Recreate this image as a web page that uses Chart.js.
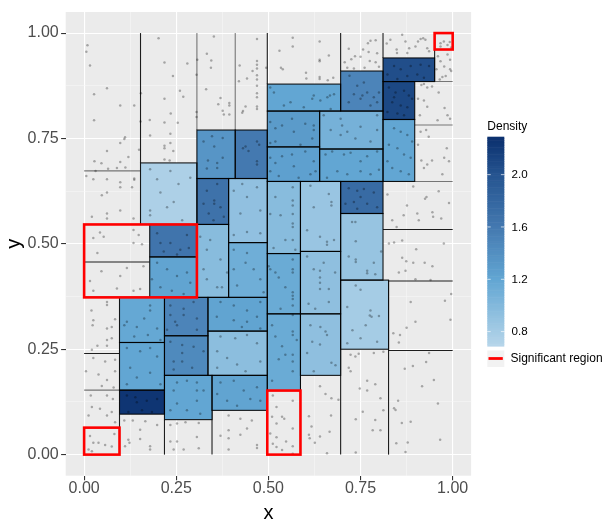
<!DOCTYPE html>
<html>
<head>
<meta charset="utf-8">
<script src="https://cdn.jsdelivr.net/npm/chart.js@4.4.0/dist/chart.umd.min.js"></script>
<style>
html,body{margin:0;padding:0;background:#ffffff;}
#wrap{position:relative;width:611px;height:526px;}
</style>
</head>
<body>
<div id="wrap"><canvas id="c" width="611" height="526"></canvas></div>
<script>
// ---------------- data ----------------
const majorTicks = [0, 0.25, 0.5, 0.75, 1];
const minorTicks = [0.125, 0.375, 0.625, 0.875];
const axisLimits = [-0.05, 1.05];

// partition cells with an estimated density
const tileXmin = [0.153,0.178,0.178,0.096,0.096,0.096,0.218,0.218,0.218,0.336,0.336,0.347,0.497,0.587,0.696,0.696,0.696,0.587,0.587,0.497,0.497,0.392,0.306,0.392,0.306,0.306,0.410,0.497,0.639,0.497,0.639,0.497,0.696,0.811,0.811,0.811];
const tileXmax = [0.306,0.306,0.306,0.218,0.218,0.218,0.336,0.336,0.347,0.497,0.497,0.497,0.587,0.696,0.826,0.811,0.811,0.696,0.696,0.587,0.587,0.497,0.392,0.497,0.392,0.410,0.497,0.639,0.811,0.639,0.811,0.696,0.811,0.951,0.897,0.897];
const tileYmin = [0.546,0.469,0.373,0.266,0.153,0.096,0.282,0.188,0.083,0.293,0.188,0.105,0.152,0.188,0.250,0.414,0.572,0.334,0.482,0.334,0.477,0.373,0.373,0.503,0.546,0.655,0.655,0.648,0.648,0.730,0.725,0.815,0.815,0.885,0.795,0.648];
const tileYmax = [0.692,0.546,0.469,0.373,0.266,0.153,0.373,0.282,0.188,0.373,0.293,0.188,0.334,0.334,0.414,0.572,0.648,0.482,0.648,0.477,0.648,0.503,0.546,0.655,0.655,0.770,0.770,0.730,0.725,0.815,0.815,0.879,0.910,0.941,0.885,0.795];
const tileDensity = [0.75,1.65,1.22,1.18,1.20,2.25,1.50,1.45,1.20,1.22,0.95,1.22,1.15,0.93,0.80,0.88,1.75,0.93,0.87,1.15,0.97,1.12,0.97,0.92,1.68,1.35,1.60,1.25,1.20,1.30,1.08,1.20,1.50,2.05,2.10,1.20];

// partition split lines outside the coloured cells
const segX1 = [0.153,0.306,0.410,0.497,0.696,0.811,0.951,0.000,0.000,0.000,0.000,0.096,0.218,0.347,0.497,0.587,0.696,0.826,0.826,0.826,0.811,0.811,0.897,0.897,0.000,0.000];
const segY1 = [0.692,0.770,0.770,0.879,0.910,0.941,0.885,0.673,0.457,0.240,0.153,0.000,0.000,0.000,0.000,0.000,0.000,0.000,0.247,0.412,0.534,0.648,0.782,0.885,0.373,0.546];
const segX2 = [0.153,0.306,0.410,0.497,0.696,0.811,0.951,0.153,0.178,0.096,0.096,0.096,0.218,0.347,0.497,0.587,0.696,0.826,1.000,1.000,1.000,1.000,1.000,1.000,0.096,0.153];
const segY2 = [1.000,1.000,1.000,1.000,1.000,1.000,1.000,0.673,0.457,0.240,0.153,0.096,0.083,0.105,0.152,0.188,0.250,0.414,0.247,0.412,0.534,0.648,0.782,0.885,0.373,0.546];

// significant regions
const sigXmin = [0.000,0.000,0.497,0.951];
const sigXmax = [0.306,0.096,0.587,1.000];
const sigYmin = [0.373,0.000,0.000,0.961];
const sigYmax = [0.546,0.064,0.152,1.000];

// colour bar
const densityLimits = [0.69, 2.29];
const densityTicks = [0.8, 1.2, 1.6, 2.0];

// observations
const pointCoords = [
[0.009,0.971],[0.006,0.956],[0.016,0.923],[0.062,0.869],[0.027,0.855],[0.098,0.828],[0.136,0.828],[0.027,0.793],[0.111,0.753],[0.109,0.749],[0.098,0.739],[0.062,0.720],[0.149,0.723],[0.120,0.706],[0.028,0.696],[0.047,0.691],[0.098,0.694],[0.065,0.678],[0.089,0.680],[0.112,0.681],[0.031,0.673],[0.006,0.661],[0.062,0.653],[0.136,0.655],[0.136,0.652],[0.098,0.646],
[0.202,0.988],[0.218,0.930],[0.280,0.928],[0.241,0.898],[0.154,0.857],[0.218,0.844],[0.260,0.863],[0.269,0.849],[0.235,0.809],[0.153,0.790],[0.178,0.794],[0.218,0.788],[0.254,0.787],[0.179,0.757],[0.234,0.761],[0.218,0.733],[0.218,0.727],[0.234,0.739],[0.242,0.720],[0.218,0.700],[0.232,0.698],
[0.352,0.992],[0.333,0.951],[0.345,0.935],[0.344,0.918],[0.307,0.937],[0.305,0.901],[0.331,0.867],[0.370,0.846],[0.364,0.831],[0.376,0.816],[0.379,0.807],[0.394,0.834],[0.394,0.828],[0.394,0.807],[0.305,0.813],[0.305,0.801],[0.347,0.755],[0.324,0.743],[0.376,0.751],[0.353,0.731],[0.336,0.698],[0.361,0.692],[0.376,0.704],[0.333,0.679],[0.361,0.680],
[0.469,0.986],[0.422,0.923],[0.469,0.934],[0.469,0.925],[0.469,0.916],[0.457,0.910],[0.469,0.900],[0.469,0.890],[0.442,0.892],[0.420,0.886],[0.469,0.875],[0.469,0.857],[0.469,0.848],[0.438,0.826],[0.429,0.811],[0.431,0.815],[0.469,0.826],[0.469,0.820],[0.494,0.918],[0.469,0.743],[0.438,0.731],[0.469,0.696],[0.469,0.688],[0.431,0.727],[0.446,0.720],[0.475,0.735],
[0.566,0.989],[0.639,0.980],[0.566,0.968],[0.530,0.958],[0.639,0.937],[0.639,0.933],[0.664,0.947],[0.534,0.918],[0.539,0.914],[0.602,0.906],[0.603,0.892],[0.639,0.896],[0.639,0.891],[0.676,0.894],[0.661,0.888],
[0.777,0.982],[0.791,0.983],[0.770,0.976],[0.718,0.963],[0.757,0.961],[0.772,0.955],[0.735,0.945],[0.750,0.944],[0.725,0.938],[0.775,0.934],[0.791,0.931],[0.707,0.931],[0.714,0.918],[0.800,0.920],[0.732,0.916],[0.761,0.918],[0.795,0.952],
[0.863,0.996],[0.872,0.980],[0.906,0.980],[0.920,0.988],[0.926,0.984],[0.913,0.986],[0.899,0.968],[0.821,0.975],[0.848,0.961],[0.882,0.964],[0.931,0.964],[0.877,0.953],[0.849,0.953],[0.936,0.957],[0.831,0.984],
[0.967,0.976],[0.976,0.980],[0.992,0.979],[0.967,0.968],[0.986,0.972],[0.996,0.966],
[0.960,0.945],[0.967,0.933],[0.986,0.949],[0.993,0.937],[0.977,0.921],[0.993,0.914],[0.996,0.910],[0.972,0.896],[0.981,0.898],[0.965,0.890],[0.956,0.914],
[0.915,0.877],[0.922,0.879],[0.931,0.871],[0.944,0.873],[0.962,0.859],[0.906,0.844],[0.922,0.840],[0.931,0.825],[0.978,0.822],[0.986,0.805],[0.993,0.797],[0.959,0.793],[0.911,0.805],
[0.913,0.766],[0.928,0.770],[0.935,0.754],[0.906,0.735],[0.984,0.727],[0.915,0.698],[0.944,0.698],[0.931,0.688],[0.922,0.680],[0.977,0.704],[0.990,0.696],[0.972,0.665],
[0.505,0.871],[0.515,0.859],[0.623,0.852],[0.619,0.844],[0.641,0.840],[0.667,0.852],[0.678,0.855],[0.660,0.848],[0.542,0.828],[0.596,0.824],[0.669,0.820],[0.560,0.836],
[0.720,0.899],[0.732,0.855],[0.755,0.852],[0.768,0.859],[0.750,0.844],[0.786,0.848],[0.777,0.828],[0.795,0.836],[0.718,0.836],[0.741,0.875],[0.800,0.859],[0.759,0.883],
[0.841,0.922],[0.859,0.914],[0.886,0.922],[0.913,0.925],[0.936,0.922],[0.877,0.898],[0.904,0.902],[0.922,0.894],[0.823,0.902],[0.850,0.891],
[0.827,0.871],[0.845,0.859],[0.868,0.863],[0.881,0.852],[0.836,0.836],[0.859,0.828],[0.877,0.824],[0.823,0.813],[0.850,0.809],[0.868,0.805],[0.890,0.844],[0.841,0.848],
[0.841,0.774],[0.859,0.766],[0.877,0.758],[0.827,0.735],[0.850,0.727],[0.868,0.712],[0.886,0.704],[0.836,0.680],[0.859,0.672],[0.881,0.665],[0.823,0.696],[0.890,0.743],
[0.505,0.789],[0.519,0.774],[0.537,0.781],[0.564,0.797],[0.600,0.785],[0.623,0.781],[0.623,0.770],[0.619,0.750],[0.519,0.743],[0.505,0.739],[0.569,0.766],[0.587,0.735],
[0.650,0.805],[0.696,0.797],[0.700,0.781],[0.669,0.770],[0.714,0.766],[0.750,0.778],[0.795,0.805],[0.696,0.758],[0.736,0.750],[0.777,0.743],[0.795,0.770],
[0.505,0.704],[0.519,0.692],[0.537,0.708],[0.564,0.712],[0.569,0.684],[0.600,0.719],[0.623,0.696],[0.614,0.665],[0.528,0.661],[0.505,0.672],[0.582,0.657],[0.628,0.672],
[0.655,0.712],[0.673,0.719],[0.705,0.712],[0.723,0.716],[0.750,0.696],[0.768,0.708],[0.795,0.719],[0.687,0.672],[0.714,0.665],[0.750,0.672],[0.777,0.665],[0.659,0.657],[0.800,0.676],
[0.025,0.653],[0.048,0.615],[0.062,0.622],[0.098,0.634],[0.130,0.634],[0.062,0.572],[0.062,0.560],[0.098,0.579],[0.134,0.560],[0.021,0.564],
[0.043,0.527],[0.025,0.514],[0.053,0.517],[0.134,0.533],[0.148,0.521],[0.157,0.499],[0.134,0.502],[0.036,0.478],[0.016,0.412],[0.047,0.435],[0.116,0.443],[0.098,0.424],[0.025,0.389],[0.089,0.394],[0.134,0.389],[0.161,0.447],[0.152,0.393],
[0.179,0.677],[0.234,0.673],[0.207,0.622],[0.225,0.587],[0.179,0.579],[0.179,0.568],[0.288,0.657],[0.266,0.556],[0.243,0.599],[0.256,0.642],[0.198,0.653],
[0.198,0.525],[0.234,0.502],[0.261,0.486],[0.279,0.521],[0.216,0.482],[0.252,0.475],[0.284,0.490],[0.207,0.502],
[0.198,0.455],[0.225,0.440],[0.252,0.424],[0.279,0.432],[0.207,0.397],[0.238,0.389],[0.270,0.381],[0.288,0.408],[0.184,0.416],
[0.333,0.626],[0.353,0.603],[0.353,0.595],[0.370,0.587],[0.338,0.572],[0.379,0.564],[0.324,0.595],[0.361,0.642],[0.351,0.556],
[0.406,0.626],[0.442,0.611],[0.469,0.634],[0.424,0.572],[0.478,0.579],[0.442,0.528],[0.406,0.521],[0.478,0.525],[0.429,0.642],
[0.315,0.517],[0.342,0.509],[0.333,0.486],[0.370,0.463],[0.333,0.416],[0.361,0.397],[0.374,0.397],[0.324,0.440],[0.388,0.432],
[0.406,0.486],[0.442,0.478],[0.460,0.440],[0.415,0.401],[0.478,0.416],[0.438,0.455],[0.487,0.385],[0.406,0.440],
[0.505,0.571],[0.533,0.568],[0.566,0.634],[0.566,0.603],[0.566,0.591],[0.566,0.571],[0.566,0.548],[0.566,0.540],[0.566,0.509],[0.519,0.611],[0.546,0.509],[0.573,0.486],[0.514,0.490],
[0.505,0.440],[0.519,0.432],[0.546,0.397],[0.566,0.463],[0.566,0.440],[0.566,0.432],[0.566,0.385],[0.566,0.377],[0.566,0.369],[0.566,0.354],[0.533,0.346],[0.501,0.447],[0.528,0.420],
[0.614,0.638],[0.664,0.618],[0.671,0.599],[0.671,0.591],[0.623,0.587],[0.605,0.532],[0.640,0.517],[0.659,0.505],[0.659,0.498],[0.678,0.509],
[0.605,0.470],[0.623,0.440],[0.640,0.436],[0.650,0.455],[0.640,0.420],[0.640,0.408],[0.640,0.393],[0.664,0.393],[0.664,0.362],[0.609,0.358],[0.627,0.346],[0.681,0.432],
[0.718,0.632],[0.741,0.626],[0.759,0.630],[0.786,0.622],[0.750,0.611],[0.732,0.599],[0.768,0.595],[0.795,0.587],[0.741,0.583],[0.709,0.595],
[0.736,0.552],[0.727,0.552],[0.737,0.506],[0.718,0.470],[0.737,0.463],[0.737,0.457],[0.768,0.436],[0.768,0.430],[0.790,0.428],[0.806,0.482],[0.786,0.455],
[0.737,0.401],[0.750,0.391],[0.714,0.350],[0.777,0.342],[0.775,0.330],[0.800,0.329],[0.728,0.295],[0.780,0.327],[0.750,0.276],[0.795,0.268],[0.714,0.264],[0.764,0.307],
[0.823,0.617],[0.893,0.636],[0.929,0.611],[0.925,0.607],[0.962,0.625],[0.990,0.597],[0.876,0.591],[0.945,0.575],[0.969,0.560],[0.908,0.556],[0.867,0.568],[0.904,0.572],[0.836,0.556],[0.848,0.540],[0.947,0.564],
[0.863,0.508],[0.841,0.503],[0.827,0.501],[0.901,0.487],[0.874,0.459],[0.893,0.455],[0.924,0.455],[0.945,0.447],[0.976,0.501],[0.854,0.432],[0.872,0.436],[0.863,0.467],[0.899,0.416],[0.940,0.414],
[0.886,0.362],[0.899,0.315],[0.979,0.365],[0.996,0.381],[0.994,0.320],[0.875,0.301],[0.839,0.288],[0.857,0.284],[0.854,0.266],
[0.936,0.241],[0.928,0.220],[0.892,0.210],[0.870,0.204],[0.949,0.177],[0.917,0.162],[0.852,0.128],[0.841,0.110],[0.845,0.106],[0.960,0.121],[0.862,0.075],[0.886,0.078],[0.966,0.035],[0.878,0.029],[0.847,0.027],[0.872,0.006],
[0.723,0.237],[0.736,0.233],[0.745,0.239],[0.786,0.241],[0.812,0.244],[0.718,0.206],[0.723,0.198],[0.768,0.175],[0.790,0.167],[0.748,0.157],[0.768,0.152],[0.804,0.134],[0.756,0.102],[0.812,0.105],[0.737,0.084],[0.790,0.082],[0.783,0.058],[0.804,0.058],[0.737,0.005],
[0.640,0.162],[0.655,0.144],[0.671,0.134],[0.690,0.130],[0.670,0.093],[0.610,0.091],[0.617,0.067],[0.666,0.054],[0.610,0.047],[0.640,0.043],[0.612,0.039],[0.626,0.028],[0.659,0.003],
[0.512,0.140],[0.566,0.128],[0.522,0.113],[0.537,0.090],[0.543,0.085],[0.522,0.074],[0.566,0.062],[0.522,0.041],[0.548,0.031],[0.512,0.026],[0.566,0.020],[0.522,0.018],[0.537,0.011],[0.566,0.002],[0.505,0.050],[0.510,0.090],
[0.510,0.307],[0.519,0.280],[0.566,0.331],[0.566,0.292],[0.566,0.284],[0.566,0.237],[0.566,0.221],[0.566,0.198],[0.537,0.257],[0.546,0.237],[0.528,0.226],[0.510,0.175],[0.577,0.272],
[0.614,0.307],[0.641,0.303],[0.659,0.284],[0.619,0.268],[0.605,0.241],[0.640,0.261],[0.671,0.218],[0.682,0.212],[0.623,0.198],[0.655,0.292],
[0.025,0.319],[0.023,0.307],[0.062,0.299],[0.075,0.303],[0.084,0.321],[0.062,0.272],[0.075,0.276],[0.036,0.258],[0.062,0.258],[0.021,0.249],[0.025,0.229],[0.057,0.221],[0.084,0.225],[0.005,0.198],[0.039,0.190],[0.084,0.198],[0.062,0.177],[0.048,0.163],[0.080,0.159],[0.018,0.140],[0.062,0.140],[0.078,0.132],[0.021,0.113],[0.043,0.109],[0.062,0.093],[0.075,0.101],[0.012,0.093],[0.084,0.077],[0.062,0.362],[0.062,0.355],[0.020,0.342],
[0.016,0.044],[0.025,0.028],[0.039,0.028],[0.057,0.023],[0.075,0.019],[0.082,0.049],[0.012,0.012],[0.021,0.008],
[0.109,0.081],[0.120,0.035],[0.111,0.020],[0.123,0.028],[0.152,0.037],[0.179,0.020],[0.179,0.012],[0.152,0.059],[0.198,0.070],[0.166,0.079],[0.132,0.081],
[0.234,0.070],[0.252,0.074],[0.275,0.077],[0.311,0.075],[0.306,0.042],[0.311,0.015],[0.234,0.031],[0.252,0.031],[0.270,0.012],[0.243,0.012],
[0.392,0.093],[0.424,0.085],[0.392,0.058],[0.392,0.039],[0.392,0.012],[0.469,0.023],[0.469,0.016],[0.442,0.062],[0.424,0.047],[0.370,0.045],[0.455,0.081],
[0.116,0.140],[0.139,0.136],[0.170,0.128],[0.198,0.132],[0.120,0.101],[0.157,0.105],[0.184,0.101],[0.143,0.124],
[0.116,0.253],[0.152,0.245],[0.179,0.253],[0.198,0.233],[0.125,0.206],[0.143,0.183],[0.179,0.194],[0.207,0.167],[0.116,0.167],
[0.116,0.315],[0.163,0.323],[0.198,0.299],[0.136,0.280],[0.173,0.284],[0.207,0.272],[0.143,0.303],[0.179,0.354],[0.179,0.342],[0.109,0.307],
[0.234,0.331],[0.270,0.331],[0.306,0.323],[0.252,0.307],[0.225,0.296],[0.306,0.296],[0.234,0.354],[0.270,0.346],[0.297,0.362],[0.247,0.315],
[0.234,0.268],[0.266,0.260],[0.266,0.241],[0.297,0.256],[0.324,0.245],[0.243,0.221],[0.266,0.221],[0.293,0.206],[0.243,0.202],
[0.252,0.171],[0.279,0.175],[0.306,0.171],[0.324,0.152],[0.243,0.152],[0.252,0.121],[0.306,0.152],[0.306,0.128],[0.279,0.105],[0.234,0.105],[0.315,0.097],
[0.360,0.327],[0.406,0.319],[0.442,0.315],[0.469,0.327],[0.428,0.303],[0.478,0.299],[0.370,0.362],[0.406,0.354],[0.442,0.342],[0.478,0.362],
[0.370,0.280],[0.410,0.276],[0.442,0.284],[0.469,0.264],[0.361,0.245],[0.388,0.229],[0.415,0.214],[0.438,0.198],[0.478,0.221],[0.361,0.206],
[0.370,0.171],[0.406,0.175],[0.433,0.152],[0.451,0.132],[0.469,0.160],[0.478,0.128],[0.388,0.128],[0.361,0.144],[0.415,0.116]
];

// ---------------- styles ----------------
const faintSegments = [1, 2, 7, 10, 21, 22, 23];
const colourStops = [[0.69,[183,214,234]],[1.2,[98,166,211]],[1.6,[68,121,176]],[2.0,[37,84,144]],[2.29,[11,48,110]]];
function densityColor(d){
  if (d <= colourStops[0][0]) return 'rgb(' + colourStops[0][1].join(',') + ')';
  for (let i = 1; i < colourStops.length; i++){
    if (d <= colourStops[i][0]){
      const [a0, c0] = colourStops[i-1], [a1, c1] = colourStops[i];
      const t = (d - a0) / (a1 - a0);
      return 'rgb(' + c0.map((v, k) => Math.round(v + (c1[k]-v)*t)).join(',') + ')';
    }
  }
  return 'rgb(' + colourStops[colourStops.length-1][1].join(',') + ')';
}
const isMajor = v => majorTicks.some(m => Math.abs(m - v) < 1e-9);
const FONT = '"Liberation Sans", Arial, Helvetica, sans-serif';
Chart.defaults.font.family = FONT;

const drawPlugin = {
  id: 'tilesAndLegend',
  beforeDraw(chart){
    const {ctx, chartArea:a} = chart;
    ctx.save();
    ctx.fillStyle = '#ffffff';
    ctx.fillRect(0, 0, chart.width, chart.height);
    ctx.fillStyle = '#EBEBEB';
    ctx.fillRect(a.left, a.top, a.right - a.left, a.bottom - a.top);
    ctx.restore();
  },
  beforeDatasetsDraw(chart){
    const {ctx, scales:{x, y}} = chart;
    ctx.save();
    ctx.lineCap = 'butt';
    for (let i = 0; i < segX1.length; i++){
      ctx.strokeStyle = faintSegments.includes(i) ? 'rgba(0,0,0,0.5)' : 'rgba(0,0,0,0.88)';
      ctx.lineWidth = 1.1;
      ctx.beginPath();
      ctx.moveTo(x.getPixelForValue(segX1[i]), y.getPixelForValue(segY1[i]));
      ctx.lineTo(x.getPixelForValue(segX2[i]), y.getPixelForValue(segY2[i]));
      ctx.stroke();
    }
    for (let i = 0; i < tileXmin.length; i++){
      const l = x.getPixelForValue(tileXmin[i]), r = x.getPixelForValue(tileXmax[i]);
      const t = y.getPixelForValue(tileYmax[i]), b = y.getPixelForValue(tileYmin[i]);
      ctx.fillStyle = densityColor(tileDensity[i]);
      ctx.fillRect(l, t, r - l, b - t);
    }
    ctx.strokeStyle = 'rgba(0,0,0,0.9)';
    ctx.lineWidth = 1.1;
    for (let i = 0; i < tileXmin.length; i++){
      const l = x.getPixelForValue(tileXmin[i]), r = x.getPixelForValue(tileXmax[i]);
      const t = y.getPixelForValue(tileYmax[i]), b = y.getPixelForValue(tileYmin[i]);
      ctx.strokeRect(l, t, r - l, b - t);
    }
    ctx.restore();
  },
  afterDatasetsDraw(chart){
    const {ctx, scales:{x, y}} = chart;
    ctx.save();
    ctx.strokeStyle = '#FF0000';
    ctx.lineWidth = 2.6;
    ctx.lineJoin = 'miter';
    for (let i = 0; i < sigXmin.length; i++){
      const l = x.getPixelForValue(sigXmin[i]), r = x.getPixelForValue(sigXmax[i]);
      const t = y.getPixelForValue(sigYmax[i]), b = y.getPixelForValue(sigYmin[i]);
      ctx.strokeRect(l, t, r - l, b - t);
    }
    ctx.restore();
  },
  afterDraw(chart){
    const ctx = chart.ctx;
    ctx.save();
    // legend title
    ctx.fillStyle = '#000000';
    ctx.font = '12px ' + FONT;
    ctx.textAlign = 'left';
    ctx.textBaseline = 'alphabetic';
    ctx.fillText('Density', 487.3, 129.5);
    // colour bar
    const bx = 487.3, bw = 17, bTop = 136.7, bBot = 346;
    const valToY = v => bBot - (v - densityLimits[0]) / (densityLimits[1] - densityLimits[0]) * (bBot - bTop);
    const steps = 120;
    for (let s = 0; s < steps; s++){
      const v0 = densityLimits[0] + (densityLimits[1]-densityLimits[0]) * s / steps;
      const v1 = densityLimits[0] + (densityLimits[1]-densityLimits[0]) * (s+1) / steps;
      ctx.fillStyle = densityColor((v0+v1)/2);
      const y0 = valToY(v1), y1 = valToY(v0);
      ctx.fillRect(bx, y0, bw, y1 - y0 + 0.6);
    }
    ctx.strokeStyle = 'rgba(255,255,255,0.85)';
    ctx.lineWidth = 0.8;
    ctx.font = '11.6px ' + FONT;
    ctx.textBaseline = 'middle';
    densityTicks.forEach(v => {
      const ty = valToY(v);
      ctx.beginPath();
      ctx.moveTo(bx, ty); ctx.lineTo(bx + 3.4, ty);
      ctx.moveTo(bx + bw - 3.4, ty); ctx.lineTo(bx + bw, ty);
      ctx.stroke();
      ctx.fillStyle = '#000000';
      ctx.fillText(v.toFixed(1), 511.5, ty + 0.5);
    });
    // significant region key
    ctx.fillStyle = '#F2F2F2';
    ctx.fillRect(487.3, 350.5, 17, 16.5);
    ctx.strokeStyle = '#FF0000';
    ctx.lineWidth = 2.8;
    ctx.beginPath();
    ctx.moveTo(488.5, 358.5); ctx.lineTo(502.8, 358.5);
    ctx.stroke();
    ctx.fillStyle = '#000000';
    ctx.font = '12px ' + FONT;
    ctx.fillText('Significant region', 510.5, 359);
    ctx.restore();
  }
};

const allTicks = majorTicks.concat(minorTicks).sort((a, b) => a - b);
function axisOptions(titleText, isX){
  return {
    type: 'linear',
    min: axisLimits[0],
    max: axisLimits[1],
    afterBuildTicks: s => { s.ticks = allTicks.map(v => ({value: v})); },
    afterFit: s => { if (isX) s.height = 50.3; else s.width = 65.7; },
    border: {display: false},
    grid: {
      color: c => (c.tick && isMajor(c.tick.value)) ? '#FFFFFF' : '#F8F8F8',
      lineWidth: c => (c.tick && isMajor(c.tick.value)) ? 1.1 : 0.55,
      tickColor: c => (c.tick && isMajor(c.tick.value)) ? '#333333' : 'rgba(0,0,0,0)',
      tickWidth: 1.1,
      tickLength: 4.6,
      drawTicks: true
    },
    ticks: {
      autoSkip: false,
      maxRotation: 0,
      minRotation: 0,
      padding: isX ? -1 : 2.4,
      color: '#4D4D4D',
      font: {size: 16, family: FONT},
      callback: v => isMajor(v) ? v.toFixed(2) : ''
    },
    title: {
      display: true,
      text: titleText,
      color: '#000000',
      font: {size: 20, family: FONT},
      padding: isX ? {top: 0, bottom: 1} : {top: 2, bottom: 0}
    }
  };
}

new Chart(document.getElementById('c'), {
  type: 'scatter',
  data: {
    datasets: [{
      data: pointCoords.map(p => ({x: p[0], y: p[1]})),
      pointRadius: 1.25,
      pointBackgroundColor: 'rgba(0,0,0,0.3)',
      pointBorderWidth: 0,
      pointHoverRadius: 0
    }]
  },
  options: {
    responsive: false,
    devicePixelRatio: 1,
    animation: false,
    events: [],
    layout: {padding: {left: 0, top: 4.6, right: 139.9, bottom: 0}},
    plugins: {legend: {display: false}, tooltip: {enabled: false}},
    scales: {
      x: axisOptions('x', true),
      y: axisOptions('y', false)
    }
  },
  plugins: [drawPlugin]
});
</script>
</body>
</html>
